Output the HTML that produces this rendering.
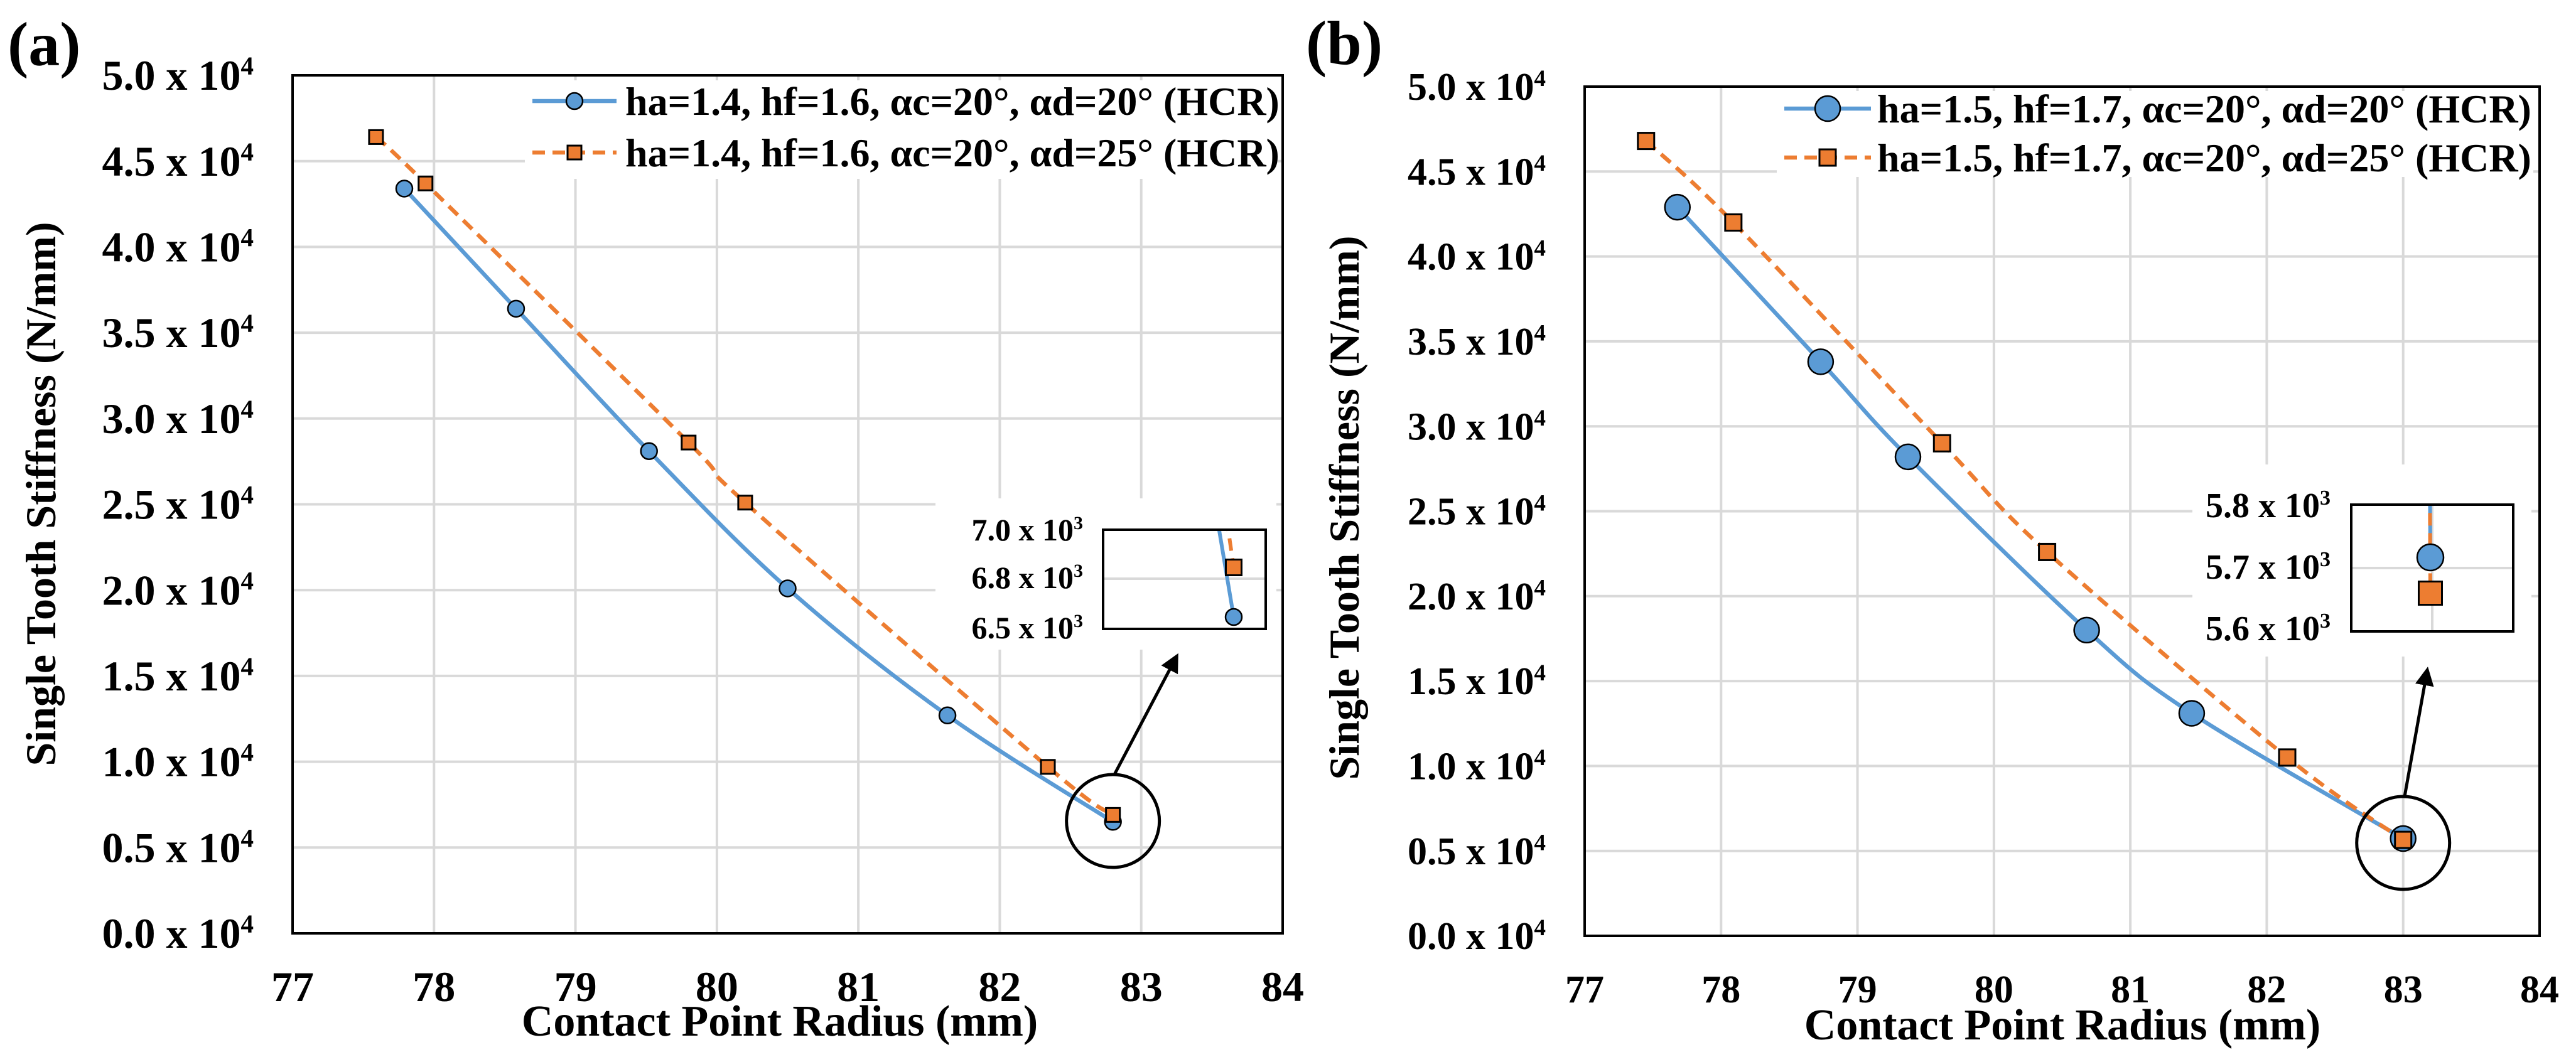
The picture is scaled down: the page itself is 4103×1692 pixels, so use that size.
<!DOCTYPE html>
<html><head><meta charset="utf-8"><style>
html,body{margin:0;padding:0;background:#fff}
svg{display:block}
svg text{font-family:"Liberation Serif","DejaVu Serif",serif !important;font-weight:bold;fill:#000}
</style></head><body>
<svg id="fig" width="4103" height="1692" viewBox="0 0 4103 1692" xmlns="http://www.w3.org/2000/svg" font-family="Liberation Serif, DejaVu Serif, serif" font-weight="bold">
<rect x="0" y="0" width="4103" height="1692" fill="#fff"/>
<defs>
<clipPath id="clipInA"><rect x="1757" y="844" width="259" height="158"/></clipPath>
<clipPath id="clipInB"><rect x="3745" y="804" width="258" height="202"/></clipPath>
<marker id="arrowHead" viewBox="0 0 10 10" refX="8" refY="5" markerWidth="6" markerHeight="6" orient="auto"><path d="M0,0 L10,5 L0,10 z" fill="#000"/></marker>
</defs>
<g id="layer"></g>
</svg>
<script>
// ---- data panel (a)
const xTicks = [77,78,79,80,81,82,83,84];
const yTickValues = [0,0.5,1.0,1.5,2.0,2.5,3.0,3.5,4.0,4.5,5.0];
const yTickLabels = ["0.0","0.5","1.0","1.5","2.0","2.5","3.0","3.5","4.0","4.5","5.0"];
const aBlueX = [77.79,78.58,79.52,80.50,81.63,82.80];
const aBlueY = [4.34,3.64,2.81,2.01,1.27,0.65];
const aOrangeX = [77.59,77.94,79.80,80.20,82.34,82.80];
const aOrangeY = [4.64,4.37,2.86,2.51,0.97,0.69];
const aInsetLabels = ["7.0","6.8","6.5"];
// ---- data panel (b)
const bBlueX = [77.68,78.73,79.37,80.68,81.45,83.00];
const bBlueY = [4.29,3.38,2.82,1.80,1.31,0.573];
const bOrangeX = [77.45,78.09,79.62,80.39,82.15,83.00];
const bOrangeY = [4.68,4.20,2.90,2.26,1.05,0.565];
const bInsetLabels = ["5.8","5.7","5.6"];

const NS = "http://www.w3.org/2000/svg";
const layer = document.getElementById('layer');
const BLUE = "#5B9BD5", ORANGE = "#ED7D31";
const FONT = '"Liberation Serif", "DejaVu Serif", serif';
function mk(tag, attrs, parent){
  const e = document.createElementNS(NS, tag);
  for (const k in attrs) e.setAttribute(k, attrs[k]);
  if (tag === 'text') { e.setAttribute('font-family', FONT); e.setAttribute('font-weight', 'bold'); }
  (parent||layer).appendChild(e);
  return e;
}
function smoothPath(pts){
  let d = "M" + pts[0][0] + "," + pts[0][1];
  for (let i=0;i<pts.length-1;i++){
    const p0 = pts[Math.max(0,i-1)], p1 = pts[i], p2 = pts[i+1], p3 = pts[Math.min(pts.length-1,i+2)];
    const t = 6;
    const c1x = p1[0] + (p2[0]-p0[0])/t, c1y = p1[1] + (p2[1]-p0[1])/t;
    const c2x = p2[0] - (p3[0]-p1[0])/t, c2y = p2[1] - (p3[1]-p1[1])/t;
    d += " C" + c1x + "," + c1y + " " + c2x + "," + c2y + " " + p2[0] + "," + p2[1];
  }
  return d;
}
function sciText(parent, x, y, mant, exp, size, anchor){
  const t = mk('text', {x:x, y:y, 'font-size':size, 'text-anchor':anchor||'end'}, parent);
  
  
  const s1 = mk('tspan', {}, t); s1.textContent = mant + " x 10";
  const s2 = mk('tspan', {'font-size':Math.round(size*0.6), dy:-size*0.36}, t); s2.textContent = exp;
  return t;
}
function circ(g, x, y, r, name){
  const c = mk('circle', {cx:x, cy:y, r:r, fill:BLUE, stroke:"#000", 'stroke-width':2.5}, g);
  
  
}
function sq(g, x, y, s, name){
  const r = mk('rect', {x:x-s/2, y:y-s/2, width:s, height:s, fill:ORANGE, stroke:"#000", 'stroke-width':3}, g);
  
  
}

function panel(cfg){
  const g = mk('g', {});
  
  
  const X = v => cfg.left + (v-77)*(cfg.right-cfg.left)/7;
  const Y = v => cfg.bottom - v*(cfg.bottom-cfg.top)/5;
  xTicks.forEach(v => {
    const l = mk('line', {x1:X(v), x2:X(v), y1:cfg.top, y2:cfg.bottom, stroke:"#d9d9d9", 'stroke-width':4}, g);
    
    
  });
  yTickValues.forEach(v => {
    const l = mk('line', {x1:cfg.left, x2:cfg.right, y1:Y(v), y2:Y(v), stroke:"#d9d9d9", 'stroke-width':4}, g);
    
    
  });
  cfg.masks.forEach(m => { mk('rect', {x:m[0], y:m[1], width:m[2]-m[0], height:m[3]-m[1], fill:"#fff"}, g); });
  const fr = mk('rect', {x:cfg.left, y:cfg.top, width:cfg.right-cfg.left, height:cfg.bottom-cfg.top, fill:"none", stroke:"#000", 'stroke-width':4}, g);
  
  
  yTickValues.forEach((v,i) => { sciText(g, cfg.yLabelRight, Y(v)+cfg.tick*0.34, yTickLabels[i], "4", cfg.tick); });
  xTicks.forEach(v => {
    const t = mk('text', {x:X(v), y:cfg.xLabelBase, 'font-size':cfg.tick, 'text-anchor':'middle'}, g);
    
    
    t.textContent = v;
  });
  const xt = mk('text', {x:cfg.xTitleX, y:cfg.xTitleY, 'font-size':70, 'text-anchor':'middle'}, g);
  
  
  xt.textContent = "Contact Point Radius (mm)";
  const yt = mk('text', {x:0, y:0, 'font-size':68, 'text-anchor':'middle', transform:"translate("+cfg.yTitleX+","+cfg.yTitleY+") rotate(-90)"}, g);
  
  
  yt.textContent = "Single Tooth Stiffness (N/mm)";
  const pl = mk('text', {x:cfg.tagX, y:cfg.tagY, 'font-size':100}, g);
  
  
  pl.textContent = cfg.tag;
  const bp = cfg.bx.map((v,i)=>[X(v), Y(cfg.by[i])]);
  const op = cfg.ox.map((v,i)=>[X(v), Y(cfg.oy[i])]);
  const bl = mk('path', {d:smoothPath(bp), fill:"none", stroke:BLUE, 'stroke-width':6.5}, g);
  
  
  const ol = mk('path', {d:smoothPath(op), fill:"none", stroke:ORANGE, 'stroke-width':6.5, 'stroke-dasharray':"20 12"}, g);
  
  
  bp.forEach(p => circ(g, p[0], p[1], cfg.cr, 'blue-point'));
  op.forEach(p => sq(g, p[0], p[1], cfg.ss, 'orange-point'));
  const lg = mk('g', {}, g);
  
  
  mk('line', {x1:cfg.lgX1, x2:cfg.lgX2, y1:cfg.lgY1, y2:cfg.lgY1, stroke:BLUE, 'stroke-width':6.5}, lg);
  circ(lg, (cfg.lgX1+cfg.lgX2)/2, cfg.lgY1, cfg.cr, 'legend-blue-marker');
  mk('line', {x1:cfg.lgX1, x2:cfg.lgX2, y1:cfg.lgY2, y2:cfg.lgY2, stroke:ORANGE, 'stroke-width':6.5, 'stroke-dasharray':"20 12"}, lg);
  sq(lg, (cfg.lgX1+cfg.lgX2)/2, cfg.lgY2, cfg.ss, 'legend-orange-marker');
  [[cfg.lgY1,cfg.leg1],[cfg.lgY2,cfg.leg2]].forEach(r => {
    const t = mk('text', {x:cfg.lgTX, y:r[0]+22, 'font-size':64}, lg);
    
    
    t.textContent = r[1];
  });
  const zc = mk('circle', {cx:X(cfg.bx[5]), cy:cfg.zcY, r:74, fill:"none", stroke:"#000", 'stroke-width':5}, g);
  
  
  const ar = mk('line', {x1:cfg.arrow[0], y1:cfg.arrow[1], x2:cfg.arrow[2], y2:cfg.arrow[3], stroke:"#000", 'stroke-width':5, 'marker-end':"url(#arrowHead)"}, g);
  
  
  const ins = cfg.inset;
  const ig = mk('g', {}, g);
  
  
  mk('rect', {x:ins.x1, y:ins.y1, width:ins.x2-ins.x1, height:ins.y2-ins.y1, fill:"#fff"}, ig);
  ins.grid.forEach(gl => mk('line', {x1:gl[0], y1:gl[1], x2:gl[2], y2:gl[3], stroke:"#d9d9d9", 'stroke-width':4}, ig));
  const IX = v => ins.cx + (v - cfg.bx[5])*ins.pxmm;
  const IY = v => ins.cy - (v*1e4 - ins.v0)*ins.pxv;
  const cg = mk('g', {'clip-path':"url(#"+ins.clip+")"}, ig);
  const bpi = [[IX(cfg.bx[4]),IY(cfg.by[4])],[IX(cfg.bx[5]),IY(cfg.by[5])]];
  const opi = [[IX(cfg.ox[4]),IY(cfg.oy[4])],[IX(cfg.ox[5]),IY(cfg.oy[5])]];
  mk('path', {d:"M"+bpi[0]+" L"+bpi[1], stroke:BLUE, 'stroke-width':6, fill:"none"}, cg);
  mk('path', {d:"M"+opi[0]+" L"+opi[1], stroke:ORANGE, 'stroke-width':6, fill:"none", 'stroke-dasharray':"20 12"}, cg);
  circ(cg, bpi[1][0], bpi[1][1], ins.cr, 'inset-blue-point');
  sq(cg, opi[1][0], opi[1][1], ins.ss, 'inset-orange-point');
  const ib = mk('rect', {x:ins.x1, y:ins.y1, width:ins.x2-ins.x1, height:ins.y2-ins.y1, fill:"none", stroke:"#000", 'stroke-width':4}, ig);
  
  
  ins.labels.forEach((lab,i) => sciText(ig, ins.labR, ins.labY[i]+ins.fs*0.34, lab, "3", ins.fs));
}

panel({name:'panel-a', tag:'(a)', tagX:12, tagY:104, left:466, right:2043, top:120, bottom:1487,
  tick:68, yLabelRight:404, xLabelBase:1595, xTitleX:1242, xTitleY:1650, yTitleX:88, yTitleY:787,
  bx:aBlueX, by:aBlueY, ox:aOrangeX, oy:aOrangeY, cr:13, ss:22,
  masks:[[836,128,2035,285],[1490,794,2033,1035]],
  lgX1:848, lgX2:982, lgY1:161, lgY2:243, lgTX:996,
  leg1:"ha=1.4, hf=1.6, αc=20°, αd=20° (HCR)", leg2:"ha=1.4, hf=1.6, αc=20°, αd=25° (HCR)",
  zcY:1308, arrow:[1775,1234,1874,1046],
  inset:{x1:1757,y1:844,x2:2016,y2:1002,clip:'clipInA', cx:1965, cy:983, v0:6500, pxv:0.1975, pxmm:175,
    cr:13, ss:25, grid:[[1757,922,2016,922]], labels:aInsetLabels, labY:[844,920,1000], labR:1725, fs:50}
});
panel({name:'panel-b', tag:'(b)', tagX:2080, tagY:102, left:2524, right:4045, top:138, bottom:1491,
  tick:62, yLabelRight:2462, xLabelBase:1597, xTitleX:3285, xTitleY:1656, yTitleX:2164, yTitleY:809,
  bx:bBlueX, by:bBlueY, ox:bOrangeX, oy:bOrangeY, cr:20, ss:26,
  masks:[[2830,145,4035,282],[3492,740,4032,1046]],
  lgX1:2842, lgX2:2980, lgY1:173, lgY2:251, lgTX:2990,
  leg1:"ha=1.5, hf=1.7, αc=20°, αd=20° (HCR)", leg2:"ha=1.5, hf=1.7, αc=20°, αd=25° (HCR)",
  zcY:1343, arrow:[3830,1269,3866,1068],
  inset:{x1:3745,y1:804,x2:4003,y2:1006,clip:'clipInB', cx:3871, cy:888, v0:5730, pxv:0.7125, pxmm:20,
    cr:21, ss:37, grid:[[3745,905,4003,905],[3874,804,3874,1006]], labels:bInsetLabels, labY:[805,903,1001], labR:3712, fs:56}
});
</script>
</body></html>
